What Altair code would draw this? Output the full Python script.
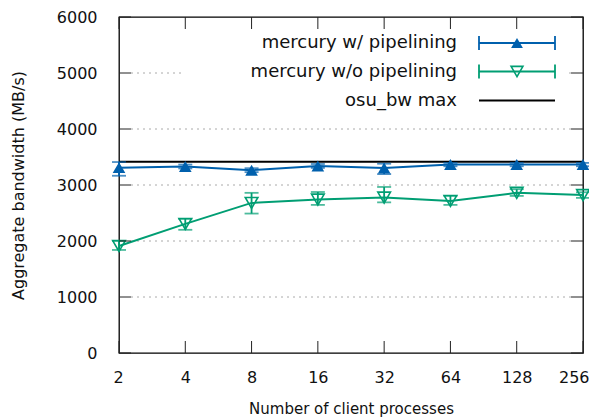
import altair as alt
import pandas as pd

# ---- data ----
procs = [2, 4, 8, 16, 32, 64, 128, 256]
pipe_mean = [3310, 3330, 3265, 3340, 3305, 3365, 3365, 3365]
pipe_lo = [3165, 3295, 3230, 3305, 3195, 3335, 3335, 3335]
pipe_hi = [3410, 3365, 3300, 3375, 3380, 3395, 3395, 3395]
nopipe_mean = [1910, 2305, 2680, 2740, 2775, 2715, 2860, 2820]
nopipe_lo = [1840, 2200, 2490, 2645, 2690, 2645, 2805, 2770]
nopipe_hi = [2000, 2395, 2860, 2875, 2965, 2805, 2925, 2870]
osu_max = [3415]
y_ticks = [0, 1000, 2000, 3000, 4000, 5000, 6000]
grid_vals = [1000, 2000, 3000, 4000, 5000]
series_names = ["mercury w/ pipelining", "mercury w/o pipelining", "osu_bw max"]

BLUE = "#0060ad"
GREEN = "#009e73"
W, H = 464, 336

pipe = pd.DataFrame({"p": procs, "m": pipe_mean, "lo": pipe_lo, "hi": pipe_hi})
nopipe = pd.DataFrame({"p": procs, "m": nopipe_mean, "lo": nopipe_lo, "hi": nopipe_hi})
osu = pd.DataFrame({"v": osu_max, "x0": [procs[0]], "x1": [procs[-1]]})
ydf = pd.DataFrame({"v": y_ticks})
gdf = pd.DataFrame({"v": grid_vals})
xdf = pd.DataFrame({"p": procs})

x_scale = alt.Scale(type="log", base=2, domain=[2, 256], nice=False)
y_scale = alt.Scale(domain=[0, 6000], nice=False)

X = alt.X("p:Q", scale=x_scale,
          axis=alt.Axis(values=procs, format="d", title="Number of client processes",
                        labelFlush=True, labelFlushOffset=6, labelOverlap=False,
                        titleY=60, titleX=W / 2, titleBaseline="alphabetic"))
Y = alt.Y("m:Q", scale=y_scale,
          axis=alt.Axis(values=y_ticks, format="d", title="Aggregate bandwidth (MB/s)",
                        labelFlush=False, labelOverlap=False,
                        titleX=-101, titleY=H / 2, titleAngle=270, titleBaseline="middle"))

grid = alt.Chart(gdf).mark_rule(color="#aaaaaa", strokeWidth=1, strokeDash=[2, 4]).encode(
    y=alt.Y("v:Q", scale=y_scale), x=alt.value(12), x2=alt.value(W - 12))

osu_line = alt.Chart(osu).mark_rule(color="black", strokeWidth=2).encode(
    y=alt.Y("v:Q", scale=y_scale), x=alt.X("x0:Q", scale=x_scale), x2="x1:Q")


def series(df, color, shape, filled):
    bars = alt.Chart(df).mark_rule(color=color, strokeWidth=1.8).encode(
        x=alt.X("p:Q", scale=x_scale), y=alt.Y("lo:Q", scale=y_scale), y2="hi:Q")
    cap_lo = alt.Chart(df).mark_tick(color=color, orient="horizontal", size=14, thickness=1.8).encode(
        x=alt.X("p:Q", scale=x_scale), y=alt.Y("lo:Q", scale=y_scale))
    cap_hi = alt.Chart(df).mark_tick(color=color, orient="horizontal", size=14, thickness=1.8).encode(
        x=alt.X("p:Q", scale=x_scale), y=alt.Y("hi:Q", scale=y_scale))
    line = alt.Chart(df).mark_line(color=color, strokeWidth=2).encode(x=X, y=Y)
    pts = alt.Chart(df).mark_point(shape=shape, filled=filled, color=color, size=160,
                                   strokeWidth=1.6, opacity=1).encode(
        x=alt.X("p:Q", scale=x_scale), y=alt.Y("m:Q", scale=y_scale))
    return [bars, cap_lo, cap_hi, line, pts]


layers = [grid, osu_line]
layers += series(nopipe, GREEN, "triangle-down", False)
layers += series(pipe, BLUE, "triangle-up", True)

# legend background
legend_bg = alt.Chart(pd.DataFrame({"k": [0]})).mark_rect(color="white").encode(
    x=alt.value(63), x2=alt.value(446), y=alt.value(14), y2=alt.value(99))
layers.append(legend_bg)

rows_y = [26, 54.5, 83.5]
styles = [(BLUE, "triangle-up", True, True), (GREEN, "triangle-down", False, True), ("black", None, False, False)]
for name, ry, (col, shape, filled, caps) in zip(series_names, rows_y, styles):
    d = pd.DataFrame({"name": [name]})
    layers.append(alt.Chart(d).mark_text(align="right", baseline="middle", fontSize=18,
                                         color="#111111").encode(
        text="name:N", x=alt.value(338), y=alt.value(ry)))
    layers.append(alt.Chart(d).mark_rule(color=col, strokeWidth=2 if not caps else 1.8).encode(
        x=alt.value(360), x2=alt.value(436), y=alt.value(ry)))
    if caps:
        for cx in (360, 436):
            layers.append(alt.Chart(d).mark_rule(color=col, strokeWidth=1.8).encode(
                x=alt.value(cx), y=alt.value(ry - 7), y2=alt.value(ry + 7)))
        layers.append(alt.Chart(d).mark_point(shape=shape, filled=filled, color=col, size=140,
                                              strokeWidth=1.6, opacity=1).encode(
            x=alt.value(398), y=alt.value(ry)))

# inward ticks on all four sides
tick_col = "#222222"
layers.append(alt.Chart(ydf).mark_rule(color=tick_col, strokeWidth=1).encode(
    y=alt.Y("v:Q", scale=y_scale), x=alt.value(0), x2=alt.value(12)))
layers.append(alt.Chart(ydf).mark_rule(color=tick_col, strokeWidth=1).encode(
    y=alt.Y("v:Q", scale=y_scale), x=alt.value(W - 12), x2=alt.value(W)))
layers.append(alt.Chart(xdf).mark_rule(color=tick_col, strokeWidth=1).encode(
    x=alt.X("p:Q", scale=x_scale), y=alt.value(H - 12), y2=alt.value(H)))
layers.append(alt.Chart(xdf).mark_rule(color=tick_col, strokeWidth=1).encode(
    x=alt.X("p:Q", scale=x_scale), y=alt.value(0), y2=alt.value(12)))

chart = alt.layer(*layers).properties(
    width=W, height=H,
    autosize=alt.AutoSizeParams(type="none"),
    padding={"left": 111, "top": 9, "right": 6, "bottom": 64},
).configure(font="DejaVu Sans").configure_view(
    stroke="black", strokeWidth=1.3
).configure_axis(
    grid=False, ticks=False, domain=False,
    labelFontSize=16, labelColor="#111111", titleFontSize=15, titleColor="#111111",
    titleFontWeight="normal",
).configure_axisX(labelPadding=16).configure_axisY(labelPadding=22, titleFontSize=16)

chart.save("out.html", embed_options={"renderer": "svg", "actions": False})
